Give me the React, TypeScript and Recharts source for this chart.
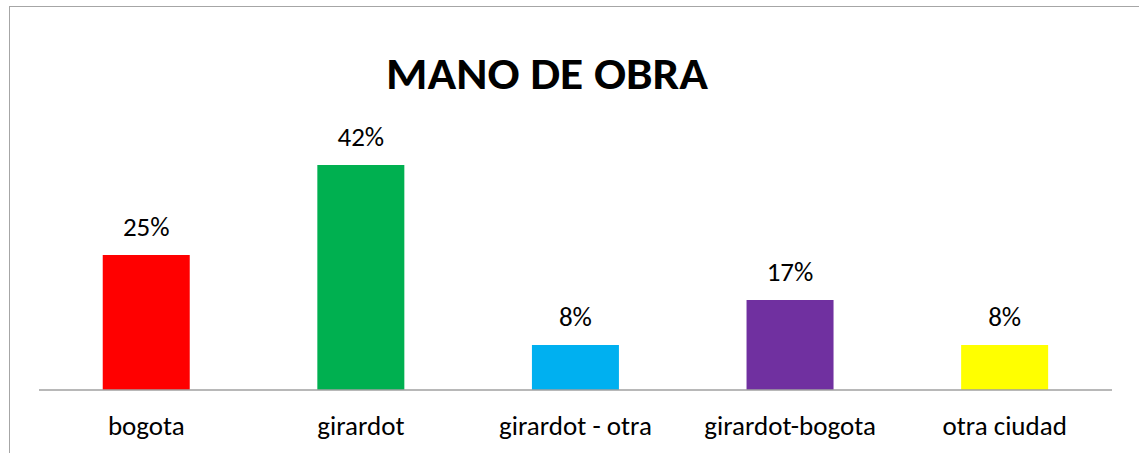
import { BarChart, Bar, XAxis, YAxis, Cell, LabelList } from 'recharts';

const categories = ['bogota', 'girardot', 'girardot - otra', 'girardot-bogota', 'otra ciudad'];
const shares = [0.25, 0.4167, 0.0833, 0.1667, 0.0833];
const barColors = ['#FF0000', '#00B050', '#00B0F0', '#7030A0', '#FFFF00'];

const FONT = 'Carlito, Calibri, Lato, sans-serif';

export default function App() {
  const chartData = categories.map((name, i) => ({ name, value: shares[i] }));

  return (
    <div
      style={{
        position: 'absolute',
        left: 9,
        top: 6,
        width: 1140,
        height: 460,
        border: '1px solid #a6a6a6',
        background: '#fff',
        fontFamily: FONT,
      }}
    >
      <svg
        width={1140}
        height={120}
        style={{ position: 'absolute', left: 0, top: 0 }}
      >
        <text
          x={537}
          y={82}
          textAnchor="middle"
          fontSize={45}
          fontWeight="bold"
          fill="#000"
          fontFamily={FONT}
          textLength={322}
          lengthAdjust="spacingAndGlyphs"
        >
          MANO DE OBRA
        </text>
      </svg>
      <BarChart
        width={1138}
        height={458}
        data={chartData}
        margin={{ top: 113, right: 36, bottom: 0, left: 29 }}
        barCategoryGap="29.7%"
      >
        <XAxis
          dataKey="name"
          height={75}
          tickLine={false}
          tickMargin={20}
          stroke="#a0a0a0"
          strokeWidth={1.5}
          interval={0}
          fontSize={27}
          tick={{ fill: '#000', fontSize: 27, fontFamily: FONT }}
        />
        <YAxis hide domain={[0, 0.5]} />
        <Bar dataKey="value" isAnimationActive={false}>
          {chartData.map((d, i) => (
            <Cell key={d.name} fill={barColors[i]} />
          ))}
          <LabelList
            dataKey="value"
            position="top"
            offset={19}
            fill="#000"
            fontSize={27}
            fontFamily={FONT}
            formatter={(v: number) => `${Math.round(v * 100)}%`}
          />
        </Bar>
      </BarChart>
    </div>
  );
}
